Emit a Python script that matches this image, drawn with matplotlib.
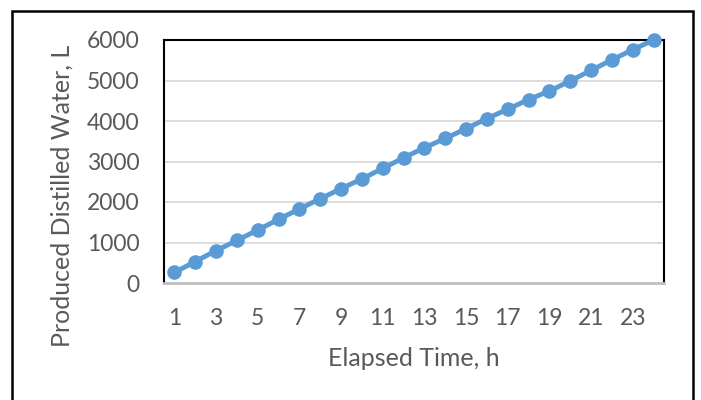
import matplotlib
matplotlib.use("Agg")
import matplotlib.pyplot as plt
from matplotlib.patches import Rectangle

hours = list(range(1, 25))
water = [260, 530, 800, 1050, 1310, 1570, 1830, 2080, 2330, 2570, 2830, 3090,
         3340, 3570, 3810, 4060, 4290, 4530, 4740, 4990, 5250, 5510, 5760, 6000]
xtick_labels = [str(h) for h in hours[::2]]
yticks = [0, 1000, 2000, 3000, 4000, 5000, 6000]

plt.rcParams['font.family'] = ['Lato', 'DejaVu Sans']
W, H = 701, 400
fig = plt.figure(figsize=(W / 100, H / 100), dpi=100)
ax = fig.add_axes([164 / W, 1 - 283 / H, 500 / W, 243 / H])

ax.plot(hours, water, color='#5B9BD5', linewidth=3.5, marker='o',
        markersize=10.5, markeredgewidth=0, solid_capstyle='round', zorder=3,
        clip_on=False)

ax.set_xlim(0.5, 24.5)
ax.set_ylim(0, 6000)
ax.set_xticks(hours[::2])
ax.set_xticklabels(xtick_labels)
ax.set_yticks(yticks)
ax.grid(axis='y', color='#D9D9D9', linewidth=1.3)
ax.set_axisbelow(True)
ax.tick_params(length=0, labelsize=16.5, labelcolor='#595959')
ax.tick_params(axis='x', pad=18)
ax.tick_params(axis='y', pad=17.5)

for s in ['top', 'left', 'right']:
    ax.spines[s].set_color('black')
    ax.spines[s].set_linewidth(1.5)
ax.spines['bottom'].set_color('#BFBFBF')
ax.spines['bottom'].set_linewidth(2)

fig.text(414 / W, 1 - 358 / H, 'Elapsed Time, h', fontsize=18,
         color='#595959', ha='center', va='center')
fig.text(62 / W, 1 - 196 / H, 'Produced Distilled Water, L', fontsize=18,
         color='#595959', ha='center', va='center', rotation=90)

fig.patches.append(Rectangle((12 / W, -0.1), (693 - 12) / W, 1 - 11 / H + 0.1,
                             transform=fig.transFigure, fill=False,
                             edgecolor='black', linewidth=1.8))

fig.savefig('out.png', dpi=100)
